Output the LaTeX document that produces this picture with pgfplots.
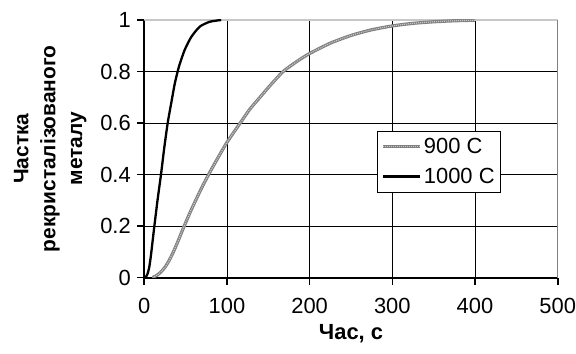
\documentclass[border=0pt]{standalone}
\usepackage{pgfplots}
\pgfplotsset{compat=1.18}
\usepackage{fontspec}
\setmainfont{Liberation Sans}
\begin{document}
\begin{tikzpicture}
\begin{axis}[
  scale only axis,
  width=413.4bp, height=257.5bp,
  xmin=0, xmax=500, ymin=0, ymax=1,
  xtick={0,100,200,300,400,500},
  ytick={0,0.2,0.4,0.6,0.8,1},
  yticklabels={0,0.2,0.4,0.6,0.8,1},
  xticklabels={0,100,200,300,400,500},
  /pgf/number format/assume math mode=true,
  tick label style={font=\fontsize{22}{26}\selectfont},
  xticklabel style={yshift=-10bp},
  yticklabel style={xshift=-3bp},
  axis x line*=bottom, axis y line*=left,
  axis line style={black, line width=2bp, -},
  tick align=outside,
  major tick length=7bp,
  tick style={black, line width=1.6bp},
  xtick pos=bottom, ytick pos=left,
  grid=major,
  major grid style={black, line width=0.8bp},
  xlabel={Час, с},
  every axis x label/.style={at={(axis description cs:0.5,-0.22)}, anchor=center, font=\bfseries\fontsize{22}{26}\selectfont},
  ylabel={Частка\\рекристалізованого\\металу},
  every axis y label/.style={at={(axis description cs:-0.2274,0.5)}, rotate=90, anchor=center, align=center, font=\bfseries\fontsize{21}{27}\selectfont},
  legend style={at={(rel axis cs:0.5636,0.569)}, anchor=north west, draw=black, line width=0.9bp, fill=white,
    font=\fontsize{22}{26}\selectfont, inner xsep=4bp, inner ysep=5bp, row sep=9bp,
    /tikz/every even column/.append style={column sep=0bp}},
  legend cell align=left,
  legend image code/.code={\draw[#1] (0bp,0bp) -- (37bp,0bp);},
]
\draw[black!22, line width=1.6bp] (rel axis cs:0,1) -- (rel axis cs:1,1) -- (rel axis cs:1,0);
\addplot[black!50, line width=3.2bp, smooth, tension=0.4,
  postaction={draw=black!20, line width=1.1bp, dash pattern=on 1bp off 1bp}] coordinates {
(10,0) (15,0.008) (20,0.021) (25,0.04) (30,0.066) (35,0.098) (40,0.135) (47,0.19)
(55,0.25) (60,0.285) (70,0.352) (80,0.413) (90,0.47) (100,0.525) (116,0.6)
(128,0.655) (140,0.7) (152,0.745) (168,0.8) (185,0.84) (200,0.87) (225,0.91)
(250,0.94) (275,0.962) (300,0.977) (325,0.987) (350,0.993) (375,0.997) (400,0.999)
};
\addlegendentry{900 C}
\addplot[black, line width=2.3bp, smooth, tension=0.4] coordinates {
(0,0) (2,0.003) (4,0.015) (6,0.04) (8,0.085) (10,0.14) (12,0.195) (16,0.3)
(20.2,0.4) (24,0.5) (28.3,0.6) (33,0.685) (37,0.755) (42,0.82) (49,0.885)
(57,0.935) (67,0.974) (79,0.993) (93,1)
};
\addlegendentry{1000 C}
\end{axis}
\pgfresetboundingbox
\path[use as bounding box] (-144.3bp,-76.5bp) rectangle (431.7bp,277.5bp);
\end{tikzpicture}
\end{document}
